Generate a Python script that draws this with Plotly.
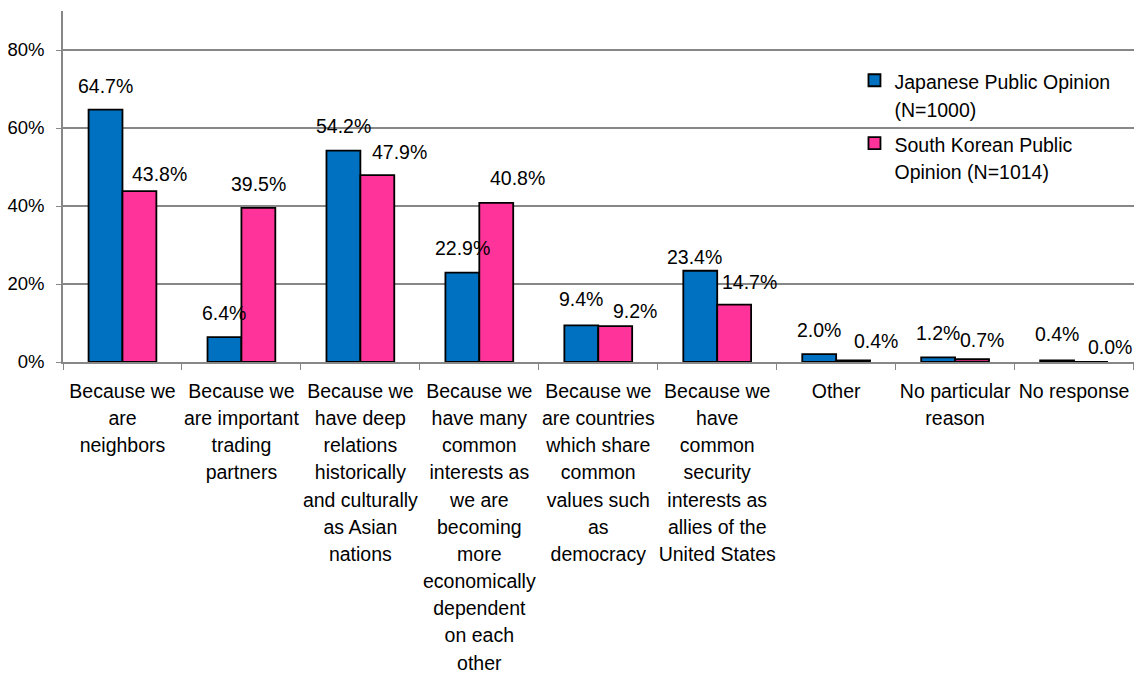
import plotly.graph_objects as go

categories = [
    "Because we are neighbors",
    "Because we are important trading partners",
    "Because we have deep relations historically and culturally as Asian nations",
    "Because we have many common interests as we are becoming more economically dependent on each other",
    "Because we are countries which share common values such as democracy",
    "Because we have common security interests as allies of the United States",
    "Other",
    "No particular reason",
    "No response",
]
tick_lines = [
    ["Because we", "are", "neighbors"],
    ["Because we", "are important", "trading", "partners"],
    ["Because we", "have deep", "relations", "historically", "and culturally", "as Asian", "nations"],
    ["Because we", "have many", "common", "interests as", "we are", "becoming", "more",
     "economically", "dependent", "on each", "other"],
    ["Because we", "are countries", "which share", "common", "values such", "as", "democracy"],
    ["Because we", "have", "common", "security", "interests as", "allies of the", "United States"],
    ["Other"],
    ["No particular", "reason"],
    ["No response"],
]
japan = [64.7, 6.4, 54.2, 22.9, 9.4, 23.4, 2.0, 1.2, 0.4]
korea = [43.8, 39.5, 47.9, 40.8, 9.2, 14.7, 0.4, 0.7, 0.0]
series_lines = [["Japanese Public Opinion", "(N=1000)"], ["South Korean Public", "Opinion (N=1014)"]]
y_tickvals = [0, 20, 40, 60, 80]
y_ticktext = ["0%", "20%", "40%", "60%", "80%"]

# label nudges (pixels)
jp_dx = [0, 0, 0, 0, 0, -6, 0, 0, 0]
jp_gap = [16, 16, 17, 17, 18, 6, 16, 16, 18]
kr_dx = [20, 0, 22, 21, 20, 15, 23, 10, 19]
kr_gap = [9, 16, 15, 17, 7, 15, 11, 11, 7]

FONT = "Liberation Sans, Arial, sans-serif"
BLUE = "#0070C0"
PINK = "#FF3399"
GRID = "#878787"
BARGAP = 0.43
GLYPH = 19.5


def styled(lines):
    return "<br>".join(f"<span style='font-size:{GLYPH}px'>{ln}</span>" for ln in lines)


ticktext = [styled(lines) for lines in tick_lines]
names = [styled(lines) for lines in series_lines]

fig = go.Figure()
fig.add_trace(go.Bar(x=categories, y=japan, name=names[0], legendgroup="jp",
                     marker=dict(color=BLUE, line=dict(color="black", width=1.8))))
fig.add_trace(go.Bar(x=categories, y=korea, name=names[1], legendgroup="kr",
                     marker=dict(color=PINK, line=dict(color="black", width=1.8))))

off = (1 - BARGAP) / 4
anns = []
for i in range(len(categories)):
    for vals, sign, dxs, gaps in ((japan, -1, jp_dx, jp_gap), (korea, 1, kr_dx, kr_gap)):
        anns.append(dict(x=i + sign * off, y=vals[i], xref="x", yref="y",
                         text=f"{vals[i]:.1f}%", showarrow=False,
                         xanchor="center", yanchor="bottom",
                         xshift=dxs[i], yshift=gaps[i] - 5,
                         font=dict(family=FONT, size=19.5, color="black")))

fig.update_layout(
    width=1134, height=677,
    margin=dict(l=63, r=0, t=11, b=314.5),
    paper_bgcolor="white", plot_bgcolor="white",
    barmode="group", bargap=BARGAP, bargroupgap=0,
    font=dict(family=FONT, size=19, color="black"),
    showlegend=True,
    legend=dict(x=0.739, y=0.861, xanchor="left", yanchor="top",
                bgcolor="rgba(0,0,0,0)", valign="top",
                traceorder="grouped", tracegroupgap=4,
                font=dict(family=FONT, size=21.5, color="black")),
    annotations=anns,
)
fig.update_xaxes(type="category", tickson="boundaries", ticks="outside", ticklen=6,
                 tickcolor=GRID, showline=True, linecolor=GRID, linewidth=1.5,
                 showgrid=False, ticklabelstandoff=9, automargin=False, tickangle=0,
                 tickmode="array", tickvals=categories, ticktext=ticktext,
                 tickfont=dict(family=FONT, size=20.9, color="black"))
fig.update_yaxes(range=[0, 90], tickvals=y_tickvals, ticktext=y_ticktext,
                 ticks="outside", ticklen=5, tickcolor=GRID,
                 showline=True, linecolor=GRID, linewidth=1.5,
                 showgrid=True, gridcolor=GRID, gridwidth=1.5, zeroline=False,
                 ticklabelstandoff=8, automargin=False,
                 tickfont=dict(family=FONT, size=18.5, color="black"))

fig.write_html("out.html")
